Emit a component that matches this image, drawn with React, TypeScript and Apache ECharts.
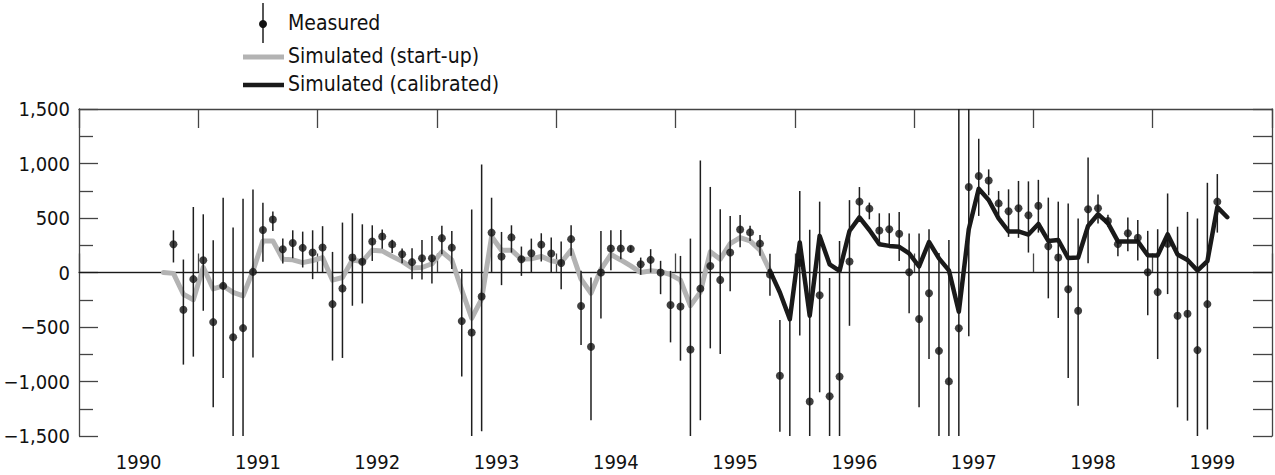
import React, { useEffect, useRef } from "react";
import * as echarts from "echarts";

// ---------- DATA ----------
// Year labels (each label is centred in its calendar year)
const YEARS = ["1990", "1991", "1992", "1993", "1994", "1995", "1996", "1997", "1998", "1999"];

// Monthly measured values; first value is month index 9 (Oct 1990), months counted from Jan 1990
const MEASURED_START = 9;
const measured = [
  259, -342, -61,
  113, -455, -123, -594, -510, 6, 390, 486, 213, 271, 226, 183,
  229, -290, -146, 137, 98, 285, 330, 258, 168, 95, 130, 130,
  315, 228, -446, -550, -220, 366, 146, 322, 122, 177, 256, 174,
  87, 306, -308, -682, 0, 220, 220, 217, 75, 116, 0, -298,
  -312, -706, -148, 60, -68, 184, 395, 368, 265, -18, -948, -1800,
  90, -1183, -208, -1135, -955, 101, 650, 586, 385, 397, 356, 3,
  -426, -190, -719, -999, -512, 784, 885, 844, 634, 562, 589, 525,
  613, 241, 137, -153, -351, 580, 589, 473, 260, 360, 318, 3,
  -180, 263, -397, -379, -712, -290, 650,
];
const measuredHigh = [
  387, 119, 601,
  534, 297, 686, 412, 677, 762, 640, 560, 311, 387, 375, 387,
  425, 189, 458, 543, 442, 433, 395, 300, 220, 222, 298, 336,
  430, 381, 30, 578, 991, 686, 372, 433, 238, 311, 360, 320,
  284, 433, 15, -46, 381, 387, 390, 244, 137, 214, 107, 15,
  152, 311, 1028, 785, 580, 519, 528, 430, 345, 172, -436, -432,
  747, 392, 650, -50, 289, 664, 784, 641, 543, 543, 555, 357,
  358, 396, 180, 298, 2100, 2150, 1227, 946, 747, 763, 840, 836,
  850, 687, 650, 632, 495, 1056, 715, 530, 313, 504, 482, 382,
  397, 725, 420, 556, 495, 823, 903,
];
const measuredLow = [
  92, -845, -772,
  -351, -1236, -968, -1600, -1700, -780, 99, 381, 82, 131, 46, -61,
  5, -808, -784, -305, -284, 106, 218, 180, 85, -61, -64, -100,
  168, 33, -954, -1700, -1457, 5, -116, 183, -31, 0, 101, 0,
  -153, 153, -666, -1356, -422, 21, 122, 183, -21, 0, -199, -641,
  -809, -1720, -1355, -696, -748, -171, 232, 290, 153, -214, -1460, -3100,
  -577, -2700, -1099, -2200, -2200, -489, 490, 488, 244, 244, 106, -373,
  -1237, -794, -1620, -2300, -2100, -586, 519, 708, 525, 327, 318, 183,
  366, -237, -417, -967, -1222, 84, 450, 420, 148, 195, 110, -392,
  -794, -198, -1237, -1359, -1919, -1440, 366,
];

// Simulated (start-up): from month index 8 (Sep 1990)
const STARTUP_START = 8;
const simStartup = [
  0, -8, -200, -250,
  48, -150, -122, -183, -214, 15, 290, 290, 122, 116, 91, 110,
  137, -70, -46, 115, 100, 205, 198, 148, 102, 42, 46, 80,
  190, 115, -160, -420, -245, 330, 205, 205, 122, 125, 148, 107,
  92, 205, -61, -190, 30, 165, 115, 60, 0, 15, 8, -20,
  -70, -305, -180, 190, 122, 265, 320, 290, 205, 15,
];

// Simulated (calibrated): from month index 69 (Oct 1995)
const CALIB_START = 69;
const simCalibrated = [
  15, -184, -428,
  275, -397, 336, 75, 15, 381, 505, 390, 260, 244, 236, 175,
  55, 280, 130, 20, -360, 397, 768, 665, 496, 377, 377, 348,
  445, 290, 298, 132, 137, 427, 534, 453, 285, 285, 285, 158,
  157, 350, 165, 115, 18, 104, 600, 507,
];

const LEGEND = ["Measured", "Simulated (start-up)", "Simulated (calibrated)"];

// ---------- helpers ----------
const monthToYear = (m: number) => 1990 + (m + 0.5) / 12;
const FONT = "'DejaVu Sans Condensed', 'DejaVu Sans', sans-serif";
const AXIS_COLOR = "#444444";
const TEXT_COLOR = "#111111";

export default function App() {
  const ref = useRef<HTMLDivElement>(null);

  useEffect(() => {
    if (!ref.current) return;
    const chart = echarts.init(ref.current, undefined, { renderer: "svg" });

    const pts = measured.map((v, i) => [monthToYear(MEASURED_START + i), v]);
    const bars = measured.map((_, i) => [
      monthToYear(MEASURED_START + i),
      measuredHigh[i],
      measuredLow[i],
    ]);
    const startup = simStartup.map((v, i) => [monthToYear(STARTUP_START + i), v]);
    const calib = simCalibrated.map((v, i) => [monthToYear(CALIB_START + i), v]);

    const catAxisCommon = {
      type: "category" as const,
      data: YEARS,
      boundaryGap: true,
      axisLine: { show: true, lineStyle: { color: AXIS_COLOR, width: 1.3 } },
      axisTick: { show: true, inside: true, length: 19, interval: 0, lineStyle: { color: AXIS_COLOR, width: 1.3 } },
      splitLine: { show: false },
    };

    const legendText = (text: string, y: number) => ({
      type: "text",
      x: 288,
      y,
      style: { text, fill: TEXT_COLOR, fontFamily: FONT, fontSize: 21, verticalAlign: "middle", align: "left" },
    });

    chart.setOption({
      animation: false,
      backgroundColor: "#ffffff",
      grid: { left: 79, right: 3, top: 109, bottom: 39, containLabel: false },
      xAxis: [
        { type: "value", min: 1990, max: 2000, show: false },
        {
          ...catAxisCommon,
          position: "bottom",
          axisLabel: {
            show: true,
            interval: 0,
            margin: 16,
            color: TEXT_COLOR,
            fontFamily: FONT,
            fontSize: 20,
          },
        },
        { ...catAxisCommon, position: "top", axisLabel: { show: false } },
      ],
      yAxis: [
        {
          type: "value",
          position: "left",
          min: -1500,
          max: 1500,
          interval: 500,
          axisLine: { show: true, lineStyle: { color: AXIS_COLOR, width: 1.3 } },
          axisTick: { show: true, inside: true, length: 19, lineStyle: { color: AXIS_COLOR, width: 1.3 } },
          minorTick: { show: true, splitNumber: 2, length: 14, lineStyle: { color: AXIS_COLOR, width: 1.3 } },
          splitLine: { show: false },
          axisLabel: {
            margin: 9,
            color: TEXT_COLOR,
            fontFamily: FONT,
            fontSize: 20,
            formatter: (v: number) => (v < 0 ? "\u2212" : "") + Math.abs(v).toLocaleString("en-US"),
          },
        },
        {
          type: "value",
          position: "right",
          min: -1500,
          max: 1500,
          interval: 250,
          axisLine: { show: true, lineStyle: { color: AXIS_COLOR, width: 1.3 } },
          axisTick: { show: true, inside: true, length: 19, lineStyle: { color: AXIS_COLOR, width: 1.3 } },
          splitLine: { show: false },
          axisLabel: { show: false },
        },
      ],
      series: [
        {
          name: LEGEND[1],
          type: "line",
          xAxisIndex: 0,
          yAxisIndex: 0,
          data: startup,
          showSymbol: false,
          symbol: "none",
          lineStyle: { color: "#b3b3b3", width: 5, join: "round", cap: "round" },
          z: 2,
          markLine: {
            silent: true,
            symbol: "none",
            label: { show: false },
            lineStyle: { color: "#1a1a1a", width: 1.2, type: "solid" },
            data: [{ yAxis: 0 }],
            z: 1,
          },
        },
        {
          name: LEGEND[0] + " error",
          type: "custom",
          xAxisIndex: 0,
          yAxisIndex: 0,
          clip: true,
          data: bars,
          encode: { x: 0, y: [1, 2] },
          renderItem: (_params: any, api: any) => {
            const x = api.value(0);
            const hi = api.coord([x, api.value(1)]);
            const lo = api.coord([x, api.value(2)]);
            return {
              type: "line",
              shape: { x1: hi[0], y1: hi[1], x2: lo[0], y2: lo[1] },
              style: { stroke: "#1e1e1e", lineWidth: 1.5 },
            };
          },
          z: 3,
        },
        {
          name: LEGEND[2],
          type: "line",
          xAxisIndex: 0,
          yAxisIndex: 0,
          data: calib,
          showSymbol: false,
          symbol: "none",
          lineStyle: { color: "#1a1a1a", width: 4.5, join: "round", cap: "round" },
          z: 4,
        },
        {
          name: LEGEND[0],
          type: "scatter",
          xAxisIndex: 0,
          yAxisIndex: 0,
          data: pts,
          symbol: "circle",
          symbolSize: 8,
          itemStyle: { color: "#111111" },
          clip: true,
          z: 5,
        },
      ],
      graphic: [
        { type: "line", shape: { x1: 263, y1: 3, x2: 263, y2: 43 }, style: { stroke: "#1e1e1e", lineWidth: 1.5 } },
        { type: "circle", shape: { cx: 263, cy: 24, r: 4 }, style: { fill: "#111111" } },
        legendText(LEGEND[0], 23),
        { type: "line", shape: { x1: 243, y1: 57, x2: 284, y2: 57 }, style: { stroke: "#b3b3b3", lineWidth: 5 } },
        legendText(LEGEND[1], 56),
        { type: "line", shape: { x1: 243, y1: 85, x2: 284, y2: 85 }, style: { stroke: "#1a1a1a", lineWidth: 4.5 } },
        legendText(LEGEND[2], 84),
      ],
    });

    return () => chart.dispose();
  }, []);

  return (
    <div
      ref={ref}
      style={{ position: "fixed", left: 0, top: 0, width: 1275, height: 475, background: "#fff" }}
    />
  );
}
